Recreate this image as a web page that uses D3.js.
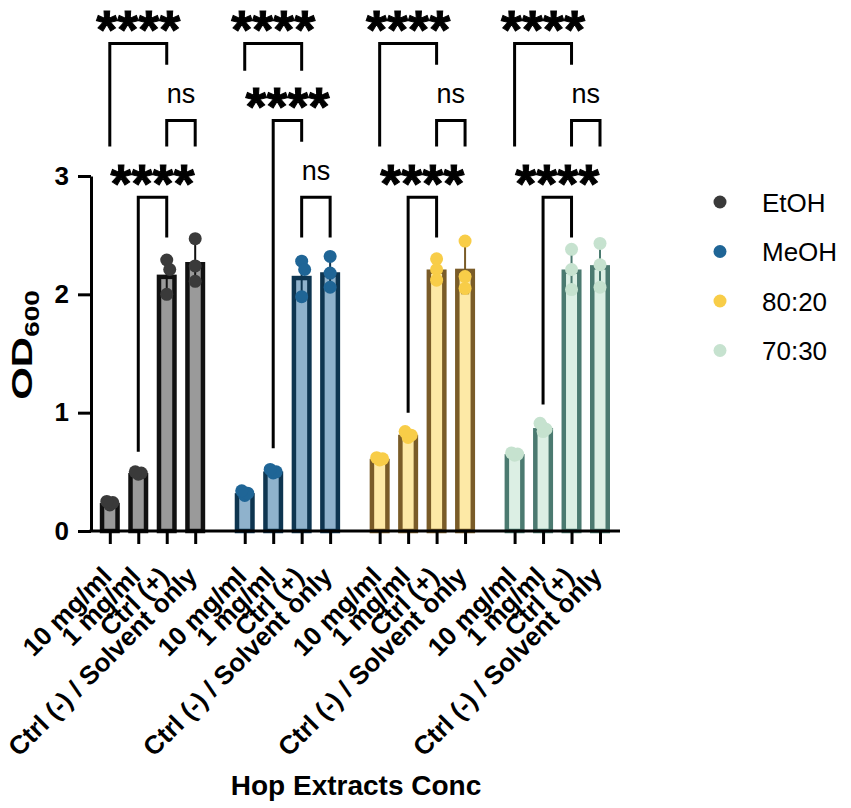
<!DOCTYPE html>
<html>
<head>
<meta charset="utf-8">
<script src="https://cdn.jsdelivr.net/npm/d3@7"></script>
<style>
  body { margin: 0; background: #fff; }
  text { font-family: "Liberation Sans", Arial, sans-serif; fill: #000; }
</style>
</head>
<body>
<div id="chart"></div>
<script>
//chart values
let solvents = ["EtOH", "MeOH", "80:20", "70:30"];
let categories = ["10 mg/ml", "1 mg/ml", "Ctrl (+)", "Ctrl (-) / Solvent only"];
let yTicks = [0, 1, 2, 3];

//replicate OD600 readings, one list per bar
let etohReps = [[0.22, 0.24, 0.25], [0.48, 0.49, 0.50], [2.29, 2.21, 2.00], [2.47, 2.24, 2.11]];
let meohReps = [[0.30, 0.32, 0.34], [0.49, 0.50, 0.52], [2.28, 2.21, 1.98], [2.32, 2.18, 2.06]];
let r8020Reps = [[0.60, 0.61, 0.62], [0.79, 0.81, 0.84], [2.30, 2.21, 2.12], [2.45, 2.15, 2.05]];
let r7030Reps = [[0.64, 0.65, 0.66], [0.84, 0.86, 0.91], [2.38, 2.21, 2.04], [2.43, 2.25, 2.06]];
let allReps = [etohReps, meohReps, r8020Reps, r7030Reps];

//significance brackets (levels in OD units)
let comparisons = [
  { g: 0, a: 0, b: 2, label: "****", top: 4.12, left: 3.25, right: 3.94 },
  { g: 0, a: 2, b: 3, label: "ns", top: 3.47, left: 3.25, right: 3.25 },
  { g: 0, a: 1, b: 2, label: "****", top: 2.82, left: 0.67, right: 2.48 },
  { g: 1, a: 0, b: 2, label: "****", top: 4.12, left: 3.89, right: 3.89 },
  { g: 1, a: 1, b: 2, label: "****", top: 3.47, left: 0.70, right: 3.29 },
  { g: 1, a: 2, b: 3, label: "ns", top: 2.82, left: 2.48, right: 2.48 },
  { g: 2, a: 0, b: 2, label: "****", top: 4.12, left: 3.25, right: 3.94 },
  { g: 2, a: 2, b: 3, label: "ns", top: 3.47, left: 3.25, right: 3.25 },
  { g: 2, a: 1, b: 2, label: "****", top: 2.82, left: 1.00, right: 2.48 },
  { g: 3, a: 0, b: 2, label: "****", top: 4.12, left: 3.25, right: 3.94 },
  { g: 3, a: 2, b: 3, label: "ns", top: 3.47, left: 3.25, right: 3.25 },
  { g: 3, a: 1, b: 2, label: "****", top: 2.82, left: 1.07, right: 2.48 }
];

//styles
let borderColors = ["#111111", "#0e3550", "#7a5c28", "#4b7a70"];
let fillColors = ["#9a9a9a", "#8fb2cc", "#fde9a6", "#dcefe4"];
let dotColors = ["#3a3a3a", "#1f6596", "#f8cd48", "#c6e2cf"];

let svgWidth = 851;
let svgHeight = 808;
let plot = { left: 91, right: 620, top: 176, bottom: 531 };
let barWidth = 20;
let barStroke = 4.5;

let svg = d3.select("#chart").append("svg")
  .attr("width", svgWidth)
  .attr("height", svgHeight);

//scales
let y = d3.scaleLinear().domain([0, 3]).range([plot.bottom, plot.top]);
let groupX = d3.scalePoint().domain(solvents).range([152.5, 557.3]);
let inner = d3.scalePoint().domain(categories).range([-42.7, 42.7]);
let xPos = (g, c) => groupX(solvents[g]) + inner(categories[c]);

/********************************************/
//bars, error bars and replicate dots
solvents.forEach(function (s, g) {
  let rows = categories.map((c, i) => {
    let vals = allReps[g][i];
    return { c: i, vals: vals, mean: d3.mean(vals), sd: d3.deviation(vals) };
  });

  let grp = svg.append("g").attr("class", "group");

  grp.selectAll("rect")
    .data(rows)
    .enter()
    .append("rect")
    .attr("x", d => xPos(g, d.c) - barWidth / 2 + barStroke / 2)
    .attr("width", barWidth - barStroke)
    .attr("y", d => y(d.mean) + barStroke / 2)
    .attr("height", d => y(0) - y(d.mean) - barStroke / 2)
    .attr("fill", fillColors[g])
    .attr("stroke", borderColors[g])
    .attr("stroke-width", barStroke);

  grp.selectAll("path.err")
    .data(rows)
    .enter()
    .append("path")
    .attr("class", "err")
    .attr("d", d => {
      let cx = xPos(g, d.c);
      let hi = y(d.mean + d.sd), lo = y(d.mean - d.sd);
      return `M${cx - 4},${hi}H${cx + 4}M${cx},${hi}V${lo}M${cx - 4},${lo}H${cx + 4}`;
    })
    .attr("fill", "none")
    .attr("stroke", borderColors[g])
    .attr("stroke-width", 2);

  rows.forEach(function (d) {
    let placed = [];
    d.vals.forEach(function (v) {
      let py = y(v);
      let near = placed.filter(p => Math.abs(p - py) < 10).length;
      placed.push(py);
      let dx = near === 0 ? 0 : (near % 2 ? 3 : -3);
      grp.append("circle")
        .attr("cx", xPos(g, d.c) + dx)
        .attr("cy", py)
        .attr("r", 6.5)
        .attr("fill", dotColors[g]);
    });
  });
});

/********************************************/
//axes
let yAxis = d3.axisLeft(y)
  .tickValues(yTicks)
  .tickFormat(d3.format("d"))
  .tickSize(13)
  .tickSizeOuter(0)
  .tickPadding(9);
let yG = svg.append("g")
  .attr("transform", `translate(${plot.left},0)`)
  .call(yAxis);
yG.selectAll("path, line").attr("stroke", "#000").attr("stroke-width", 3);
yG.selectAll("text")
  .attr("font-size", 26)
  .attr("font-weight", "bold")
  .attr("font-family", "Liberation Sans, Arial, sans-serif");

svg.append("line")
  .attr("x1", plot.left - 1.5)
  .attr("x2", plot.right)
  .attr("y1", plot.bottom)
  .attr("y2", plot.bottom)
  .attr("stroke", "#000")
  .attr("stroke-width", 3);

solvents.forEach(function (s) {
  let xg = svg.append("g")
    .attr("transform", `translate(${groupX(s)},${plot.bottom})`)
    .call(d3.axisBottom(inner).tickSize(13).tickSizeOuter(0));
  xg.select(".domain").remove();
  xg.selectAll("line").attr("stroke", "#000").attr("stroke-width", 3);
  xg.selectAll("text")
    .attr("y", null)
    .attr("dy", null)
    .attr("transform", "translate(3,47) rotate(-45)")
    .attr("text-anchor", "end")
    .attr("font-size", 26)
    .attr("font-weight", "bold")
    .attr("font-family", "Liberation Sans, Arial, sans-serif");
});

//axis titles
svg.append("text")
  .attr("x", 356)
  .attr("y", 795)
  .attr("text-anchor", "middle")
  .attr("font-size", 28)
  .attr("font-weight", "bold")
  .text("Hop Extracts Conc");

let yTitle = svg.append("text")
  .attr("transform", "translate(32,345) rotate(-90) scale(1.4,1)")
  .attr("text-anchor", "middle")
  .attr("font-size", 30)
  .attr("font-weight", "bold");
yTitle.append("tspan").text("OD");
yTitle.append("tspan").attr("font-size", 20).attr("dy", 7).text("600");

/********************************************/
//significance brackets
let sig = svg.append("g").attr("class", "sig");
sig.selectAll("path")
  .data(comparisons)
  .enter()
  .append("path")
  .attr("d", d => `M${xPos(d.g, d.a)},${y(d.left)}V${y(d.top)}H${xPos(d.g, d.b)}V${y(d.right)}`)
  .attr("fill", "none")
  .attr("stroke", "#000")
  .attr("stroke-width", 3);

sig.selectAll("text")
  .data(comparisons)
  .enter()
  .append("text")
  .attr("x", d => (xPos(d.g, d.a) + xPos(d.g, d.b)) / 2)
  .attr("y", d => y(d.top) - 24 + (d.label === "ns" ? 7 : 29))
  .attr("text-anchor", "middle")
  .attr("font-size", d => d.label === "ns" ? 27 : 54)
  .attr("font-weight", d => d.label === "ns" ? "normal" : "bold")
  .attr("stroke", d => d.label === "ns" ? "none" : "#000")
  .attr("stroke-width", d => d.label === "ns" ? 0 : 1)
  .text(d => d.label);

/********************************************/
//legend
let legend = svg.append("g").attr("class", "legend");
solvents.forEach(function (s, i) {
  let cy = 202 + i * 49.5;
  legend.append("circle").attr("cx", 720).attr("cy", cy).attr("r", 6.5).attr("fill", dotColors[i]);
  legend.append("text").attr("x", 762).attr("y", cy + 9.5).attr("font-size", 26).text(s);
});
</script>
</body>
</html>
